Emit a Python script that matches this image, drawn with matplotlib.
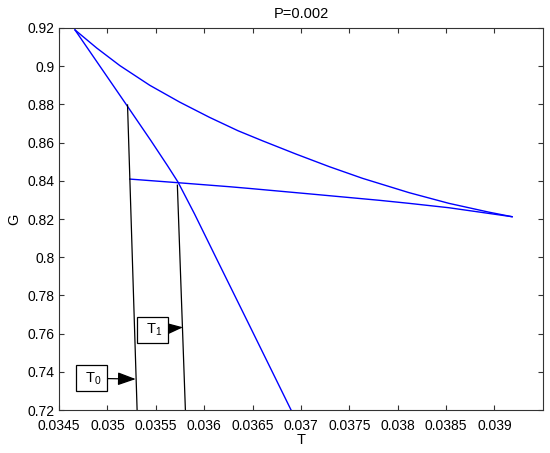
import numpy as np
import matplotlib
matplotlib.use("Agg")
from matplotlib import pyplot as plt

plt.rcParams['font.family'] = ['Liberation Sans', 'DejaVu Sans']
plt.rcParams['mathtext.default'] = 'regular'

# Curvas azules (T, G)
t_upper = [0.034665, 0.034890, 0.035129, 0.035438, 0.035747, 0.036056, 0.036350,
           0.036605, 0.036949, 0.037293, 0.037636, 0.038117, 0.038529, 0.038941, 0.039182]
g_upper = [0.9190, 0.9095, 0.9003, 0.8900, 0.8812, 0.8732, 0.8662,
           0.8609, 0.8540, 0.8474, 0.8413, 0.8338, 0.8282, 0.8236, 0.8212]

t_lower = [0.034665, 0.035198, 0.035450, 0.035620, 0.035730, 0.035900, 0.036125, 0.036468, 0.036898]
g_lower = [0.9190, 0.8797, 0.8610, 0.8480, 0.8393, 0.8227, 0.7995, 0.7643, 0.7200]

t_mid = [0.035232, 0.035730, 0.036262, 0.036468, 0.037100, 0.037808, 0.038117, 0.038529, 0.039182]
g_mid = [0.8409, 0.8390, 0.8369, 0.8360, 0.8331, 0.8298, 0.8282, 0.8259, 0.8212]

# Lineas negras T0 y T1
t_T0 = [0.035208, 0.035307]
g_T0 = [0.8797, 0.7200]
t_T1 = [0.035723, 0.035806]
g_T1 = [0.8377, 0.7200]

# Etiquetas con flecha: texto, posicion del cuadro, punta de la flecha
labels = [' T$_0$ ', ' T$_1$ ']
label_pos = [(0.034833, 0.7366), (0.035469, 0.7619)]
arrow_tip = [(0.035293, 0.7362), (0.035781, 0.7633)]

x_ticks = [0.0345, 0.035, 0.0355, 0.036, 0.0365, 0.037, 0.0375, 0.038, 0.0385, 0.039]
y_ticks = [0.72, 0.74, 0.76, 0.78, 0.8, 0.82, 0.84, 0.86, 0.88, 0.9, 0.92]

fig = plt.figure(figsize=(5.5, 4.53), dpi=100)
ax = fig.add_axes([0.1073, 0.0949, 0.8797, 0.8433])

ax.plot(t_upper, g_upper, color='#0000ff', lw=1)
ax.plot(t_lower, g_lower, color='#0000ff', lw=1)
ax.plot(t_mid, g_mid, color='#0000ff', lw=1)
ax.plot(t_T0, g_T0, color='k', lw=0.9)
ax.plot(t_T1, g_T1, color='k', lw=0.9)

for txt, pos, tip in zip(labels, label_pos, arrow_tip):
    ax.annotate(txt, xy=tip, xytext=pos, fontsize=10.5, ha='center', va='center',
                bbox=dict(boxstyle='square,pad=0.33', fc='w', ec='k', lw=0.9),
                arrowprops=dict(arrowstyle='-|>,head_length=1.05,head_width=0.38',
                                color='k', lw=0.9, shrinkA=0, shrinkB=0))

ax.set_xlim(0.0345, 0.0395)
ax.set_ylim(0.72, 0.92)
ax.set_xticks(x_ticks)
ax.set_yticks(y_ticks)
ax.set_xticklabels(['{:g}'.format(v) for v in x_ticks])
ax.set_yticklabels(['{:g}'.format(v) for v in y_ticks])
ax.tick_params(direction='in', top=True, right=True, length=3.6, width=0.8,
               labelsize=10, pad=3, color='0.2')
ax.tick_params(axis='x', pad=6.5)
for s in ax.spines.values():
    s.set_color('0.2')
    s.set_linewidth(0.8)

ax.set_xlabel('T', fontsize=10.5, labelpad=0)
ax.set_ylabel('G', fontsize=10.5, labelpad=5)
ax.set_title('P=0.002', fontsize=10.5, pad=7)

fig.savefig('out.png', dpi=100)
